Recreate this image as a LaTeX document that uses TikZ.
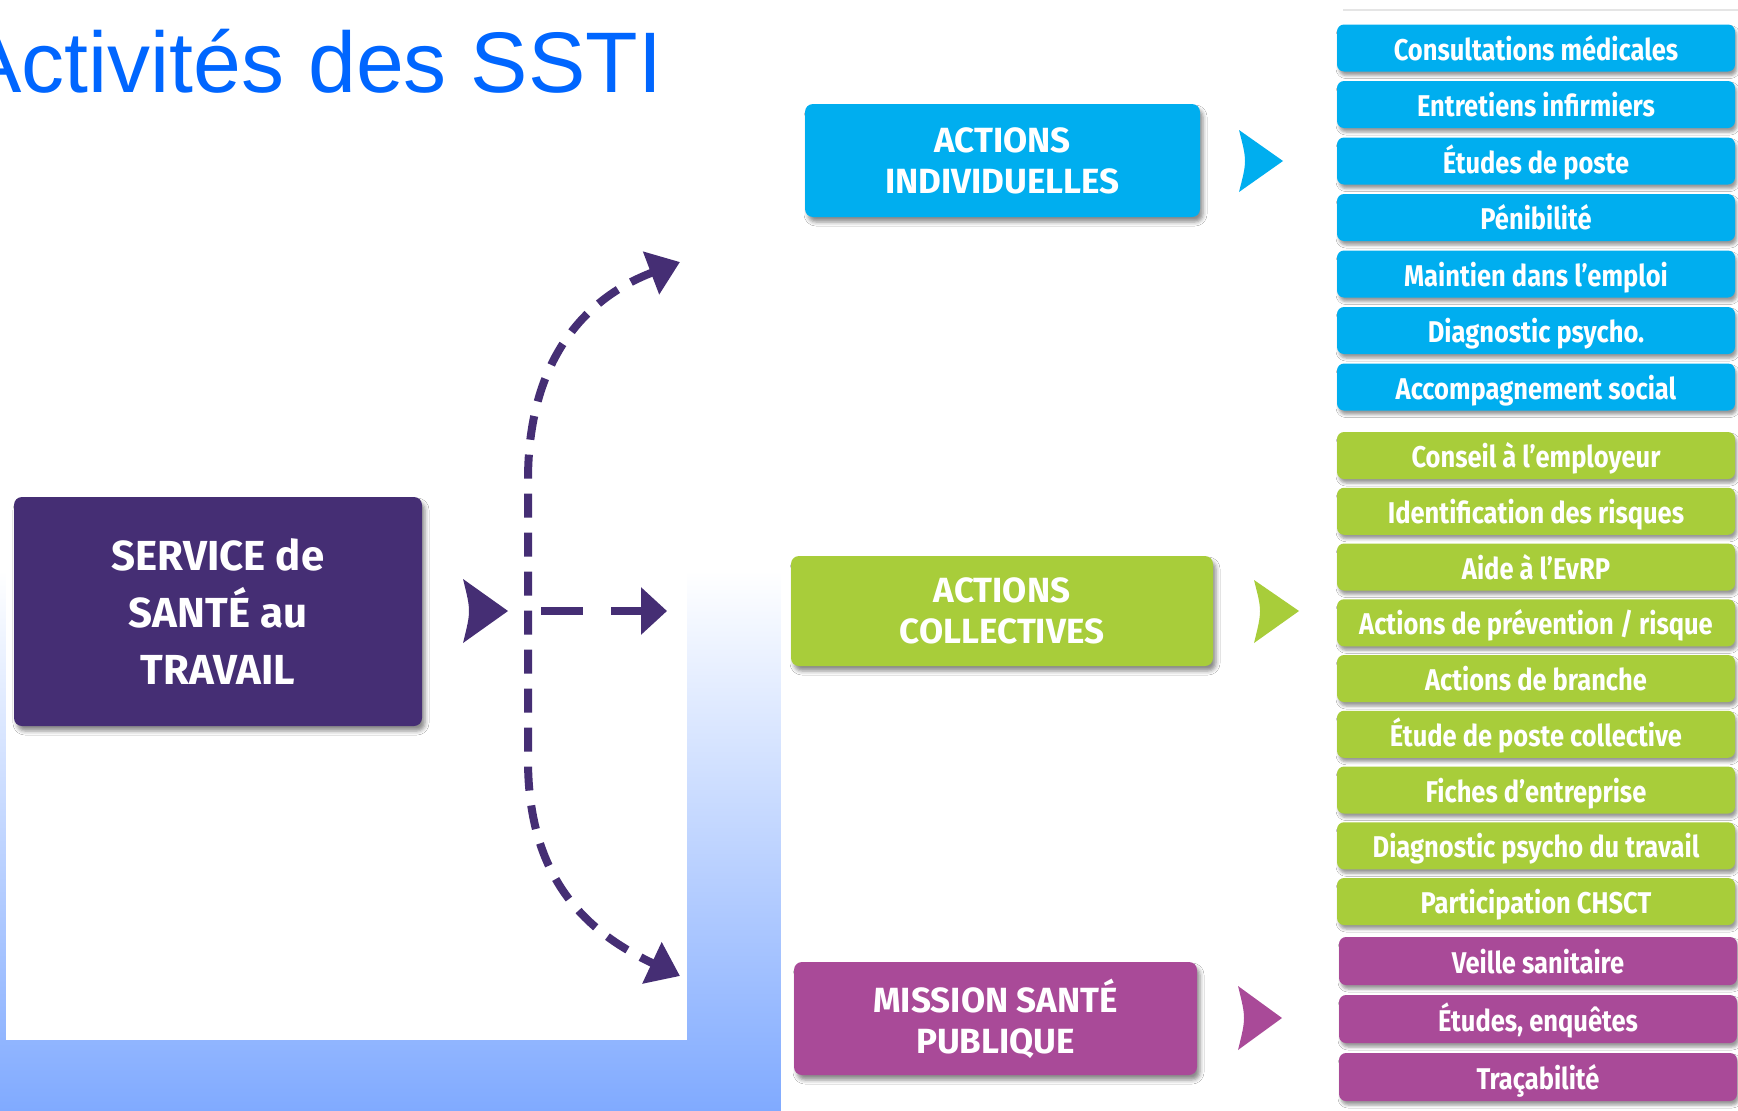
\documentclass[tikz,border=0pt]{standalone}
\usepackage{fontspec}
\setmainfont{Fira Sans}
\newfontfamily\titlefont{Liberation Sans}
\newfontfamily\itemfont{Fira Sans}[FakeStretch=0.85]
\usetikzlibrary{arrows.meta,shadows.blur}
\definecolor{sstipurple}{RGB}{69,46,116}
\definecolor{indcyan}{RGB}{0,174,239}
\definecolor{colgreen}{RGB}{168,205,58}
\definecolor{pubmagenta}{RGB}{169,74,152}
\definecolor{titleblue}{RGB}{0,102,255}
\definecolor{bgblue}{RGB}{128,170,255}
\begin{document}
\begin{tikzpicture}[x=1pt,y=-1pt,
  mainbox/.style={rounded corners=8pt, text=white, align=center, inner sep=0pt,
    font=\bfseries\fontsize{35}{41}\selectfont,
    blur shadow={shadow xshift=3pt, shadow yshift=-5pt, shadow blur radius=4pt, shadow opacity=45}},
  itembox/.style={rounded corners=7pt, text=white, minimum width=398pt, minimum height=47pt,
    inner sep=0pt, text height=24pt, text depth=0pt,
    font=\itemfont\bfseries\fontsize{30}{30}\selectfont,
    blur shadow={shadow xshift=2pt, shadow yshift=-4pt, shadow blur radius=3pt, shadow opacity=40}},
  flow/.style={sstipurple, line width=8pt}
]
\useasboundingbox (0,0) rectangle (1738,1111);
% background
\fill[white] (0,0) rectangle (1738,571);
\shade[top color=white, bottom color=bgblue] (0,570) rectangle (1738,1111);
\fill[white] (5.5,0) rectangle (687,1040);
\fill[white] (781,0) rectangle (1738,1111);
\draw[gray!20, line width=1.5pt] (1343,10) -- (1738,10);

% title
\node[anchor=base west, inner sep=0pt, text=titleblue, font=\titlefont\fontsize{86}{86}\selectfont] (title) at (-36,92) {Activités des SSTI};

% main boxes
\node[mainbox, fill=sstipurple, minimum width=408pt, minimum height=229pt,
  font=\bfseries\fontsize{42}{57}\selectfont] (sst) at (218,611.5) {SERVICE de\\SANTÉ au\\TRAVAIL};
\node[mainbox, fill=indcyan, minimum width=395pt, minimum height=113pt] (ind) at (1002.5,160.5) {ACTIONS\\INDIVIDUELLES};
\node[mainbox, fill=colgreen, minimum width=422pt, minimum height=110pt] (col) at (1002,611) {ACTIONS\\COLLECTIVES};
\node[mainbox, fill=pubmagenta, minimum width=403pt, minimum height=113pt] (pub) at (995.5,1018.5) {MISSION SANTÉ\\PUBLIQUE};

% triangle markers
\fill[sstipurple] (463,579) .. controls (471,611) .. (463,643) -- (508,611) -- cycle;
\fill[indcyan] (1239,130) .. controls (1247,161) .. (1239,192) -- (1283,161) -- cycle;
\fill[colgreen] (1254,580) .. controls (1262,611) .. (1254,643) -- (1299,611) -- cycle;
\fill[pubmagenta] (1238,986) .. controls (1246,1018) .. (1238,1050) -- (1282,1018) -- cycle;

% dashed connectors
\coordinate (topend) at (680,262);
\coordinate (botend) at (680,976);
\coordinate (midstart) at (541,611);
\coordinate (midend) at (667,611);
\draw[flow, dash pattern=on 24pt off 15pt,
  {Triangle[length=31pt,width=44pt]}-{Triangle[length=31pt,width=44pt]}]
  (topend) .. controls (585,298) and (528,360) .. (528,480) -- (528,760)
  .. controls (528,880) and (588,933) .. (botend);
\draw[flow, dash pattern=on 42pt off 28pt, -{Triangle[length=26pt,width=46pt]}] (midstart) -- (midend);

% item lists
\foreach \t [count=\i from 0] in {Consultations médicales, Entretiens infirmiers, Études de poste, Pénibilité, Maintien dans l’emploi, Diagnostic psycho., Accompagnement social}
  \node[itembox, fill=indcyan] (ind\i) at (1536,{48+56.5*\i}) {\t};
\foreach \t [count=\i from 0] in {Conseil à l’employeur, Identification des risques, Aide à l’EvRP, Actions de prévention / risque, Actions de branche, Étude de poste collective, Fiches d’entreprise, Diagnostic psycho du travail, Participation CHSCT}
  \node[itembox, fill=colgreen] (col\i) at (1536,{455.5+55.75*\i}) {\t};
\foreach \t [count=\i from 0] in {Veille sanitaire, {Études, enquêtes}, Traçabilité}
  \node[itembox, fill=pubmagenta, minimum height=48pt] (pub\i) at (1538,{961+58*\i}) {\t};
\end{tikzpicture}
\end{document}
